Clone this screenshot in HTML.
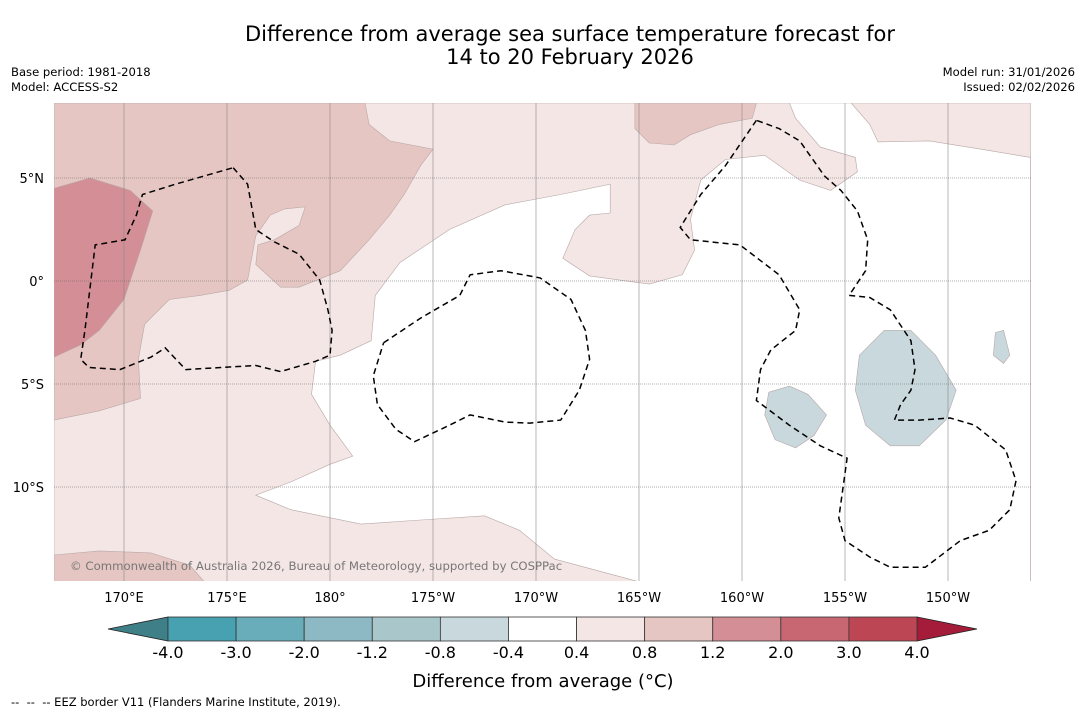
<!DOCTYPE html>
<html><head><meta charset="utf-8">
<style>
body{margin:0;background:#fff;width:1085px;height:713px;overflow:hidden;font-family:"DejaVu Sans","Liberation Sans",sans-serif;}
svg text{font-family:"DejaVu Sans","Liberation Sans",sans-serif;}
</style></head>
<body>
<svg id="chart" width="1085" height="713">
<text x="570" y="41" font-size="21" text-anchor="middle">Difference from average sea surface temperature forecast for</text>
<text x="570" y="64" font-size="21" text-anchor="middle">14 to 20 February 2026</text>
<text x="11" y="76" font-size="11.6">Base period: 1981-2018</text>
<text x="11" y="91" font-size="11.6">Model: ACCESS-S2</text>
<text x="1075" y="76" font-size="11.6" text-anchor="end">Model run: 31/01/2026</text>
<text x="1075" y="91" font-size="11.6" text-anchor="end">Issued: 02/02/2026</text>
<g id="map"></g>
<g id="cbar"></g>
<text x="543" y="687" font-size="18" text-anchor="middle">Difference from average (°C)</text>
<text x="11" y="706" font-size="11.5">-- &#160;-- &#160;-- EEZ border V11 (Flanders Marine Institute, 2019).</text>
</svg>
<script>
const lonTicks=[170,175,180,185,190,195,200,205,210];
const lonLabels=["170°E","175°E","180°","175°W","170°W","165°W","160°W","155°W","150°W"];
const latTicks=[5,0,-5,-10];
const latLabels=["5°N","0°","5°S","10°S"];
const cbLevels=["-4.0","-3.0","-2.0","-1.2","-0.8","-0.4","0.4","0.8","1.2","2.0","3.0","4.0"];
const cbColors=["#48a1b1","#6aadba","#8cb9c4","#a9c7cb","#c8d8dc","#ffffff","#f4e6e5","#e6c6c2","#d48e95","#c86671","#bd4655"];
const regionLight=[[166.6,8.64],[214.0,8.64],[214.0,-14.6],[166.6,-14.6]];
const regionWhite=[[193.6,4.7],[193.6,3.3],[192.6,3.2],[191.9,2.5],[191.3,1.1],[192.6,0.25],[195.5,-0.15],[197.1,0.3],[197.7,1.5],[197.5,3.0],[198.0,4.9],[199.2,5.9],[201.1,6.1],[202.8,4.9],[204.3,4.4],[205.6,5.3],[205.5,6.0],[203.8,6.5],[202.6,7.9],[202.3,8.64],[205.3,8.64],[206.2,7.6],[206.6,6.75],[209.1,6.8],[211.6,6.4],[214.0,6.0],[214.0,-14.6],[195.0,-14.6],[190.9,-13.5],[189.2,-12.1],[187.5,-11.4],[184.4,-11.6],[181.5,-11.8],[178.1,-11.1],[176.4,-10.4],[178.1,-9.75],[180,-8.9],[181.1,-8.5],[180,-7.0],[179.1,-5.5],[179.3,-3.9],[180.5,-3.6],[182.0,-2.9],[182.2,-0.7],[183.4,0.9],[185.8,2.5],[188.5,3.7],[191.2,4.2]];
const regionMidTL=[[166.6,8.64],[181.7,8.64],[181.9,7.6],[182.9,6.8],[185.0,6.4],[184.4,5.6],[183.6,4.2],[182.9,3.2],[181.9,2.0],[180.5,0.5],[178.5,-0.3],[177.6,-0.3],[176.4,0.8],[176.5,1.75],[177.3,2.0],[178.5,2.7],[178.8,3.6],[177.8,3.5],[177.1,3.2],[176.4,2.2],[176.0,0.05],[175.1,-0.45],[173.7,-0.7],[172.2,-0.9],[171.0,-2.1],[170.7,-3.8],[170.8,-5.7],[168.8,-6.3],[166.6,-6.75]];
const regionStrongL=[[166.6,4.5],[168.35,5.0],[170.3,4.4],[171.4,3.4],[170.8,1.5],[170.0,-0.9],[168.8,-2.4],[167.9,-3.1],[166.6,-3.7]];
const regionMidTop=[[194.8,8.64],[200.7,8.64],[200.5,7.9],[198.9,7.6],[197.5,7.1],[196.7,6.6],[195.5,6.7],[194.8,7.4]];
const regionMidBL=[[166.6,-13.3],[168.8,-13.1],[171.3,-13.2],[173.2,-13.8],[173.9,-14.6],[166.6,-14.6]];
const regionCool1=[[201.3,-5.4],[202.3,-5.1],[203.2,-5.5],[204.1,-6.5],[203.5,-7.5],[202.6,-8.1],[201.6,-7.7],[201.1,-6.5]];
const regionCool2=[[205.7,-3.6],[206.9,-2.4],[208.2,-2.4],[209.4,-3.6],[210.4,-5.3],[209.9,-6.75],[208.6,-8.0],[207.2,-8.0],[206.0,-7.0],[205.5,-5.3]];
const regionCool3=[[212.3,-2.5],[212.7,-2.4],[213.0,-3.6],[212.7,-4.0],[212.2,-3.6]];
const eezA=[[175.3,5.5],[176.0,4.7],[176.4,2.5],[177.3,1.9],[178.5,1.3],[179.5,0.05],[179.9,-1.4],[180.1,-2.4],[180,-3.6],[179.3,-3.9],[177.6,-4.4],[176.4,-4.1],[174.7,-4.2],[173.0,-4.3],[172.0,-3.25],[171.3,-3.7],[169.8,-4.3],[168.3,-4.2],[167.9,-3.8],[168.1,-2.4],[168.6,1.75],[170.05,2.0],[170.6,3.2],[170.9,4.2],[172.5,4.7],[175.3,5.5]];
const eezB=[[182.6,-3.0],[184.4,-1.8],[186.3,-0.7],[186.8,0.3],[188.3,0.5],[190.2,0.15],[191.7,-0.9],[192.4,-2.4],[192.6,-3.8],[192.1,-5.3],[191.2,-6.75],[189.7,-6.9],[188.5,-6.85],[186.8,-6.5],[185.8,-7.0],[184.1,-7.8],[183.2,-7.2],[182.3,-6.0],[182.1,-4.6],[182.6,-3.0]];
const eezC=[[200.7,7.8],[199.2,5.6],[198.0,4.2],[197.0,2.6],[197.5,2.0],[199.9,1.75],[201.8,0.3],[202.8,-1.4],[202.6,-2.4],[201.4,-3.35],[200.9,-4.3],[200.7,-5.8],[202.3,-7.0],[203.8,-8.0],[205.1,-8.6],[204.7,-11.5],[205.0,-12.6],[206.2,-13.4],[207.2,-13.9],[208.9,-13.9],[210.6,-12.6],[212.0,-12.1],[213.0,-11.1],[213.3,-9.7],[212.8,-8.2],[211.3,-7.0],[210.1,-6.65],[208.6,-6.75],[207.4,-6.75],[207.7,-6.0],[208.2,-5.3],[208.4,-4.3],[208.2,-2.9],[207.2,-1.4],[206.2,-0.8],[205.2,-0.7],[206.0,0.5],[206.1,2.0],[205.6,3.4],[204.8,4.4],[204.0,5.1],[202.8,6.8],[201.8,7.4],[200.7,7.8]];

const NS="http://www.w3.org/2000/svg";
const X0=54,X1=1031,Y0=103,Y1=581;
function xOf(lon){return 124+(lon-170)*20.6;}
function yOf(lat){return 281-lat*20.6;}
function mk(tag,attrs,parent){const e=document.createElementNS(NS,tag);for(const k in attrs)e.setAttribute(k,attrs[k]);parent.appendChild(e);return e;}
function pts(arr){return arr.map(p=>xOf(p[0]).toFixed(1)+","+yOf(p[1]).toFixed(1)).join(" ");}
const map=document.getElementById('map');
const defs=mk('defs',{},map);
const cp=mk('clipPath',{id:'clip'},defs);
mk('rect',{x:X0,y:Y0,width:X1-X0,height:Y1-Y0},cp);
const g=mk('g',{'clip-path':'url(#clip)'},map);
const fills=[[regionLight,6,'light-warm-region'],[regionWhite,5,'neutral-region'],[regionMidTL,7,'warm-region-northwest'],[regionStrongL,8,'strong-warm-region-west'],[regionMidTop,7,'warm-region-north'],[regionMidBL,7,'warm-region-southwest'],[regionCool1,4,'cool-region-1'],[regionCool2,4,'cool-region-2'],[regionCool3,4,'cool-region-3']];
fills.forEach(f=>{
  const p=mk('polygon',{points:pts(f[0]),fill:cbColors[f[1]],stroke:'#b8a8a8','stroke-width':0.6},g);
  
  
});
lonTicks.forEach((lon,i)=>{
  const l=mk('line',{x1:xOf(lon),x2:xOf(lon),y1:Y0,y2:Y1,stroke:'#888','stroke-width':0.6},g);
  
  
  const t=mk('text',{x:xOf(lon),y:602,'font-size':13,'text-anchor':'middle'},map);
  t.textContent=lonLabels[i];
  
  
});
latTicks.forEach((lat,i)=>{
  const l=mk('line',{x1:X0,x2:X1,y1:yOf(lat),y2:yOf(lat),stroke:'#666','stroke-width':0.6,'stroke-dasharray':'1,1'},g);
  
  
  const t=mk('text',{x:44,y:yOf(lat)+5,'font-size':13,'text-anchor':'end'},map);
  t.textContent=latLabels[i];
  
  
});
[eezA,eezB,eezC].forEach(e=>{
  const p=mk('polyline',{points:pts(e),fill:'none',stroke:'#000','stroke-width':1.5,'stroke-dasharray':'6,4'},g);
  
  
});
const ct=mk('text',{x:70,y:570,'font-size':11.7,fill:'#777'},map);
ct.textContent='© Commonwealth of Australia 2026, Bureau of Meteorology, supported by COSPPac';



const cb=document.getElementById('cbar');
const cbL=168,cbR=917,cbT=617,cbB=641,n=cbColors.length,w=(cbR-cbL)/n;
const lt=mk('polygon',{points:`108,629 ${cbL},${cbT} ${cbL},${cbB}`,fill:'#3e7f88',stroke:'#222','stroke-width':0.8},cb);


const rt=mk('polygon',{points:`977,629 ${cbR},${cbT} ${cbR},${cbB}`,fill:'#a51c3a',stroke:'#222','stroke-width':0.8},cb);


cbColors.forEach((c,i)=>{
  const r=mk('rect',{x:cbL+i*w,y:cbT,width:w,height:cbB-cbT,fill:c,stroke:'#333','stroke-width':0.8},cb);
  
  
});
cbLevels.forEach((s,i)=>{
  const t=mk('text',{x:cbL+i*w,y:658,'font-size':16,'text-anchor':'middle'},cb);
  t.textContent=s;
  
  
});
</script>
</body></html>
